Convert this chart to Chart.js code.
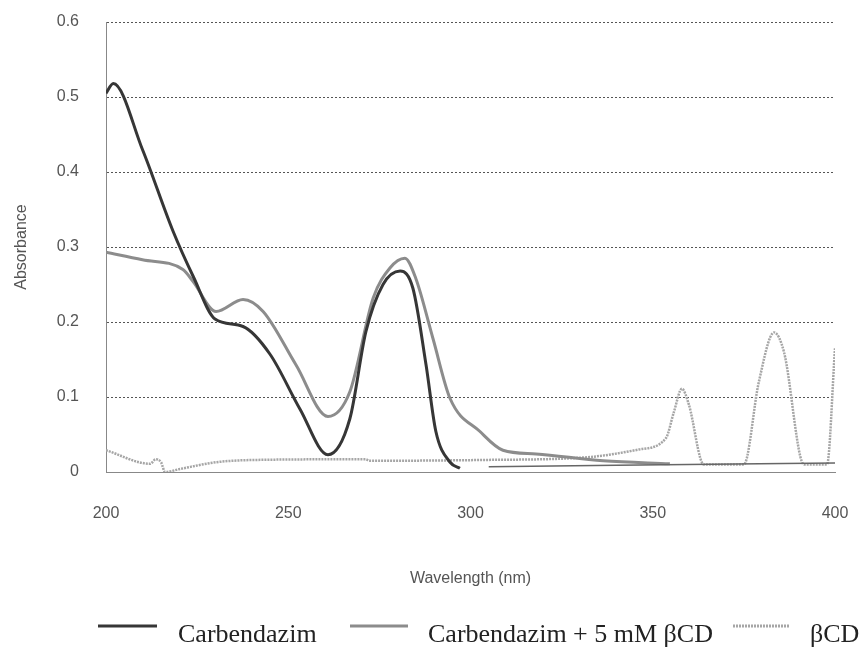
<!DOCTYPE html>
<html>
<head>
<meta charset="utf-8">
<script src="https://cdn.jsdelivr.net/npm/chart.js@4.4.1/dist/chart.umd.min.js"></script>
<style>
  html, body { margin: 0; padding: 0; background: #fff; }
  #wrap { width: 866px; height: 653px; }
</style>
</head>
<body>
<div id="wrap"><canvas id="spectrum" width="866" height="653"></canvas></div>
<script>
// wavelength (nm) / absorbance
const carbendazimNm  = [200, 202, 210, 218.4, 224, 229.9, 237.6, 245, 253.2, 260.9, 266.9, 271.3, 276, 280.7, 284.2, 287.8, 290.5, 294.4, 297.1, 301, 305, 340, 400];
const carbendazimAbs = [0.505, 0.518, 0.43, 0.321, 0.26, 0.204, 0.194, 0.157, 0.084, 0.023, 0.071, 0.187, 0.25, 0.268, 0.245, 0.143, 0.054, 0.013, 0.005, null, 0.007, 0.009, 0.012];

const complexNm  = [200, 210, 221.1, 223.9, 230.2, 237.6, 243.1, 252.1, 260.9, 266.9, 273.3, 277.9, 282, 285, 289.7, 294.4, 302.6, 308.9, 318, 336.4, 354.7];
const complexAbs = [0.293, 0.283, 0.27, 0.254, 0.214, 0.23, 0.214, 0.143, 0.074, 0.107, 0.232, 0.272, 0.285, 0.258, 0.178, 0.098, 0.054, 0.029, 0.024, 0.015, 0.011];

const bcdNm  = [200, 212.1, 213.7, 215.1, 216.2, 220.3, 230.2, 240.3, 271.3, 272.2, 303, 332.8, 346.2, 353.6, 355.8, 358, 359.9, 364, 375, 379.1, 383.3, 386, 391.5, 397.8, 400];
const bcdAbs = [0.029, 0.011, 0.017, 0.013, 0.0, 0.004, 0.013, 0.016, 0.017, 0.015, 0.016, 0.02, 0.03, 0.045, 0.08, 0.111, 0.09, 0.01, 0.01, 0.12, 0.186, 0.16, 0.01, 0.01, 0.165];

const seriesLabels = ['Carbendazim', 'Carbendazim + 5 mM \u03B2CD', '\u03B2CD'];

function pairs(xs, ys) {
    return xs.map((x, i) => ({ x: x, y: ys[i] }));
}

// legend drawn by hand: serif text, wide gaps like the original figure
const bottomLegend = {
    id: 'bottomLegend',
    afterDraw(chart) {
        const ctx = chart.ctx;
        const items = [
            { x1: 98, x2: 157, tx: 178 },
            { x1: 350, x2: 408, tx: 428 },
            { x1: 733, x2: 790, tx: 810 }
        ];
        ctx.save();
        ctx.font = '26px "Liberation Serif", "Times New Roman", serif';
        ctx.textBaseline = 'alphabetic';
        ctx.fillStyle = '#222';
        items.forEach((it, i) => {
            const ds = chart.data.datasets[i];
            ctx.strokeStyle = ds.borderColor;
            ctx.lineWidth = 3;
            ctx.setLineDash(ds.borderDash || []);
            ctx.beginPath();
            ctx.moveTo(it.x1, 626);
            ctx.lineTo(it.x2, 626);
            ctx.stroke();
            ctx.setLineDash([]);
            ctx.fillText(seriesLabels[i], it.tx, 642);
        });
        ctx.restore();
    }
};

const sans = '"Liberation Sans", Arial, sans-serif';

new Chart(document.getElementById('spectrum'), {
    type: 'line',
    data: {
        datasets: [{
            label: seriesLabels[0],
            data: pairs(carbendazimNm, carbendazimAbs),
            borderColor: '#363636',
            borderWidth: 3,
            pointRadius: 0,
            spanGaps: false,
            cubicInterpolationMode: 'monotone',
            segment: {
                // the flat tail after the gap is a faint thin trace in the scan
                borderWidth: c => (c.p0.parsed.x >= 305 ? 1.5 : 3),
                borderColor: c => (c.p0.parsed.x >= 305 ? '#666' : '#363636')
            }
        }, {
            label: seriesLabels[1],
            data: pairs(complexNm, complexAbs),
            borderColor: '#8c8c8c',
            borderWidth: 3,
            pointRadius: 0,
            cubicInterpolationMode: 'monotone'
        }, {
            label: seriesLabels[2],
            data: pairs(bcdNm, bcdAbs),
            borderColor: '#a6a6a6',
            borderWidth: 2.5,
            borderDash: [2, 1],
            pointRadius: 0,
            cubicInterpolationMode: 'monotone'
        }]
    },
    options: {
        responsive: false,
        animation: false,
        layout: { padding: { left: 8, right: 31, top: 22, bottom: 61 } },
        plugins: {
            legend: { display: false },
            tooltip: { enabled: false }
        },
        scales: {
            x: {
                type: 'linear',
                min: 200,
                max: 400,
                afterFit: s => {
                    s.height = 120;
                    s.paddingLeft = 0;
                    s.paddingRight = 0;
                },
                ticks: {
                    stepSize: 50,
                    padding: 24,
                    color: '#555',
                    font: { family: sans, size: 16 }
                },
                grid: { display: false },
                border: { display: true, color: '#888', width: 1 },
                title: {
                    display: true,
                    text: 'Wavelength (nm)',
                    color: '#555',
                    font: { family: sans, size: 16 }
                }
            },
            y: {
                min: 0,
                max: 0.6,
                afterFit: s => {
                    s.width = 98;
                    s.paddingTop = 0;
                    s.paddingBottom = 0;
                },
                ticks: {
                    stepSize: 0.1,
                    padding: 27,
                    color: '#555',
                    font: { family: sans, size: 16 }
                },
                grid: {
                    color: '#555',
                    lineWidth: 1,
                    drawTicks: false
                },
                border: { display: true, color: '#888', width: 1, dash: [2, 2] },
                title: {
                    display: true,
                    text: 'Absorbance',
                    color: '#555',
                    font: { family: sans, size: 16 }
                }
            }
        }
    },
    plugins: [bottomLegend]
});
</script>
</body>
</html>
